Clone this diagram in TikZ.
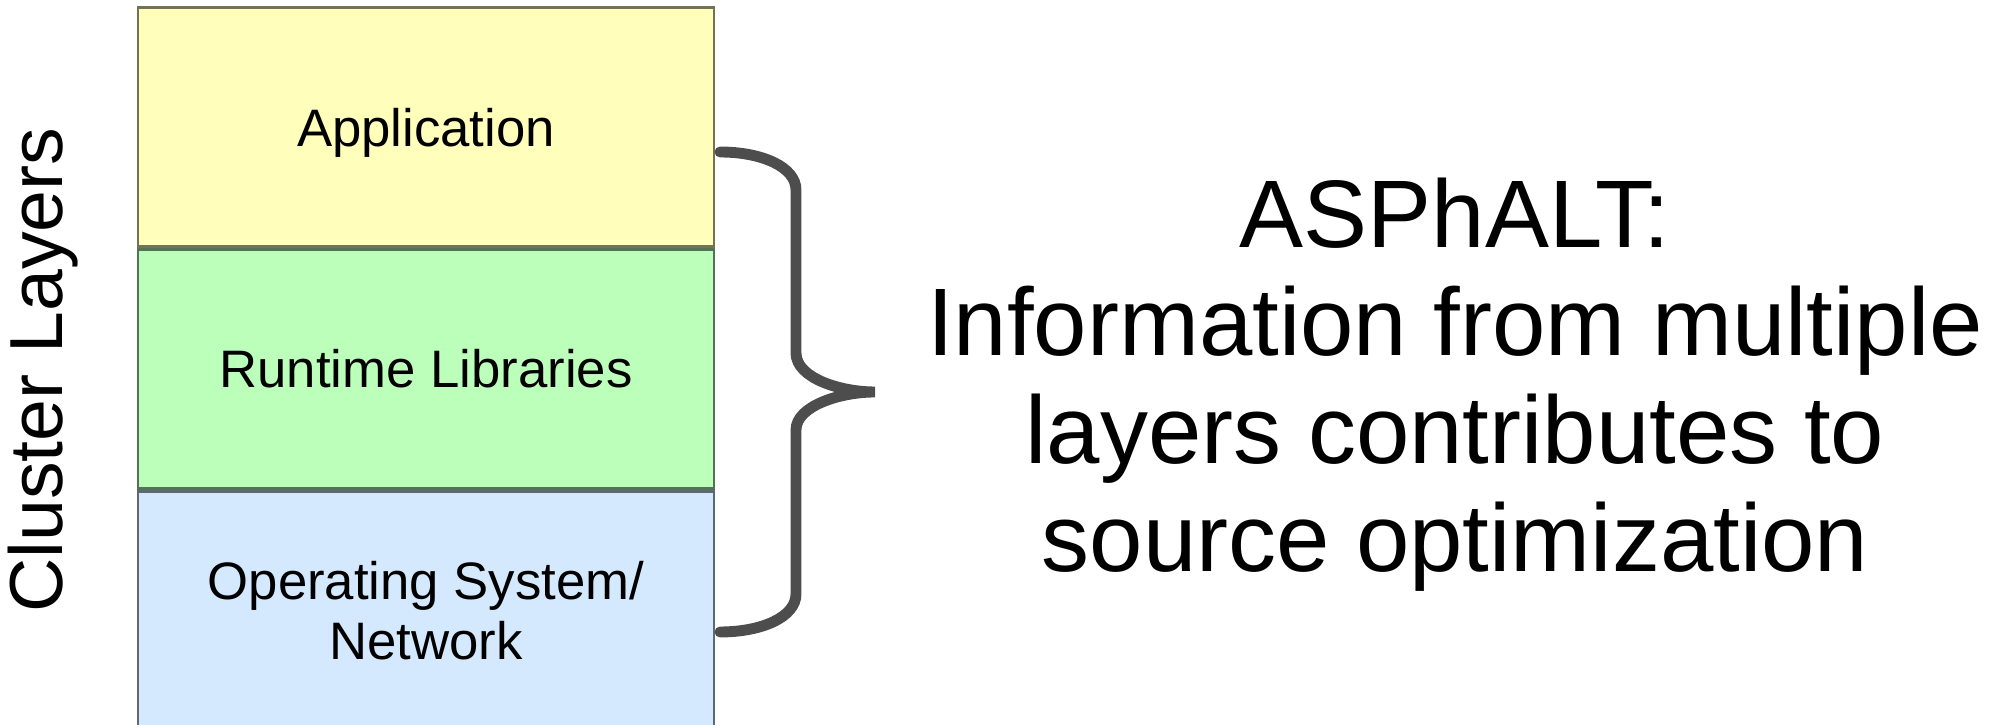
\documentclass[tikz,border=0pt]{standalone}
\usepackage{fontspec}
\setmainfont{Liberation Sans}
\usetikzlibrary{positioning}

\definecolor{appyellow}{RGB}{255,255,187}
\definecolor{rtgreen}{RGB}{187,255,187}
\definecolor{osblue}{RGB}{212,233,253}
\definecolor{bracegray}{RGB}{77,77,77}

\tikzset{
  layer/.style={draw=#1!45!black, fill=#1, line width=0.8pt,
    minimum width=5.76cm, minimum height=2.39cm, inner sep=0pt,
    align=center, font=\fontsize{15}{17}\selectfont},
  brace/.style={draw=bracegray, line width=3.1pt, line cap=round}
}

\begin{document}
\begin{tikzpicture}
	\useasboundingbox (0,0) rectangle (20.08,7.25);

	% the three layers of the stack
	\node[layer=appyellow, text depth=0pt] (app) at (4.26,5.98) {Application};
	\node[layer=rtgreen, below=0pt of app] (runtime) {Runtime Libraries};
	\node[layer=osblue, below=0pt of runtime] (os) {Operating System/\\Network};

	\node[rotate=90, font=\fontsize{21.4}{24}\selectfont] (title) at (0.43,3.55) {Cluster Layers};

	% curly brace
	\coordinate (btop) at (7.20,5.73);
	\coordinate (btip) at (8.75,3.33);
	\coordinate (bbot) at (7.20,0.93);
	\draw[brace] (btop) .. controls (7.62,5.73) and (7.96,5.58) .. (7.96,5.35)
		-- (7.96,3.72) .. controls (7.96,3.47) and (8.40,3.33) .. (btip)
		.. controls (8.40,3.33) and (7.96,3.19) .. (7.96,2.95)
		-- (7.96,1.31) .. controls (7.96,1.08) and (7.62,0.93) .. (bbot);

	\node[align=center, inner sep=0pt, font=\fontsize{27.3}{30.7}\selectfont] (info) at (14.55,3.40)
		{ASPhALT:\\Information from multiple\\layers contributes to\\source optimization};
\end{tikzpicture}
\end{document}
